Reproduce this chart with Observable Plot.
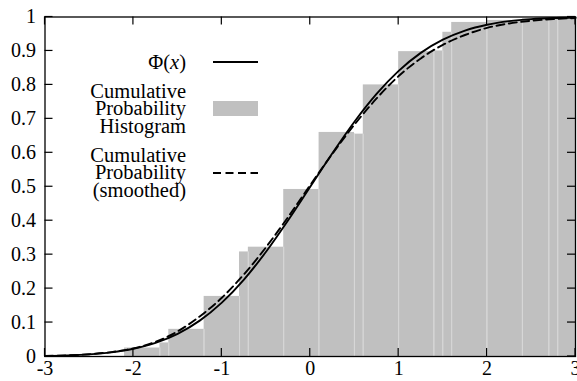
<!DOCTYPE html>
<html><head><meta charset="utf-8">
<script src="https://cdn.jsdelivr.net/npm/d3@7"></script>
<script src="https://cdn.jsdelivr.net/npm/@observablehq/plot@0.6"></script>
<style>
body{margin:0;background:#fff}
svg{display:block}
svg, svg text, svg tspan { font-family: "Liberation Serif", "DejaVu Serif", serif !important; }
</style>
</head><body><div id="chart"></div>
<script>
// Histogram boxes
const barLeft   = [-2.1, -1.7, -1.6, -1.2, -0.8, -0.7, -0.3, 0.1, 0.5, 0.6, 1.0, 1.4, 1.5, 1.6, 2.0, 2.4, 2.7, 2.8];
const barRight  = [-1.7, -1.6, -1.2, -0.8, -0.7, -0.3, 0.1, 0.5, 0.6, 1.0, 1.4, 1.5, 1.6, 2.0, 2.4, 2.7, 2.8, 3.0];
const barHeight = [0.025, 0.04, 0.08, 0.177, 0.308, 0.322, 0.492, 0.66, 0.655, 0.80, 0.898, 0.90, 0.955, 0.984, 0.99, 0.995, 0.998, 1.0];

// Curves
const curveX = [-3, -2.75, -2.5, -2.25, -2, -1.75, -1.5, -1.25, -1, -0.75, -0.5, -0.25, 0, 0.25, 0.5, 0.75, 1, 1.25, 1.5, 1.75, 2, 2.25, 2.5, 2.75, 3];
const phiValues = [0.0013, 0.0030, 0.0062, 0.0122, 0.0228, 0.0401, 0.0668, 0.1056, 0.1587, 0.2266, 0.3085, 0.4013, 0.5, 0.5987, 0.6915, 0.7734, 0.8413, 0.8944, 0.9332, 0.9599, 0.9772, 0.9878, 0.9938, 0.9970, 0.9987];
const smoothValues = [0.0015, 0.0033, 0.0068, 0.013, 0.024, 0.043, 0.074, 0.118, 0.173, 0.242, 0.322, 0.411, 0.505, 0.597, 0.683, 0.760, 0.826, 0.878, 0.918, 0.947, 0.968, 0.981, 0.989, 0.994, 0.997];

// Ticks
const xTicks = [-3, -2, -1, 0, 1, 2, 3];
const xTickLabels = ["-3", "-2", "-1", "0", "1", "2", "3"];
const yTicks = [0, 0.1, 0.2, 0.3, 0.4, 0.5, 0.6, 0.7, 0.8, 0.9, 1];
const yTickLabels = ["0", "0.1", "0.2", "0.3", "0.4", "0.5", "0.6", "0.7", "0.8", "0.9", "1"];

// Legend
const legendLabels = [["Φ(x)"], ["Cumulative", "Probability", "Histogram"], ["Cumulative", "Probability", "(smoothed)"]];

const bars = barLeft.map((l, i) => ({x1: l, x2: barRight[i], y: barHeight[i]}));
const seams = barLeft.slice(1).map((l, i) => ({x: l, y: Math.min(barHeight[i], barHeight[i + 1])}));
const curve = curveX.map((x, i) => ({x, phi: phiValues[i], smooth: smoothValues[i]}));
const xLab = new Map(xTicks.map((t, i) => [t, xTickLabels[i]]));
const yLab = new Map(yTicks.map((t, i) => [t, yTickLabels[i]]));

const FONT = "Liberation Serif, DejaVu Serif, serif";

const plot = Plot.plot({
  width: 577, height: 381,
  marginLeft: 44.5, marginRight: 2, marginTop: 16.5, marginBottom: 25,
  x: {domain: [-3, 3]},
  y: {domain: [0, 1]},
  style: {fontFamily: FONT, fontSize: "20px", color: "#000", background: "#fff"},
  marks: [
    Plot.rectY(bars, {x1: "x1", x2: "x2", y: "y", fill: "#c0c0c0"}),
    Plot.ruleX(seams, {x: "x", y1: 0, y2: "y", stroke: "#d8d8d8", strokeWidth: 1}),
    Plot.line(curve, {x: "x", y: "smooth", stroke: "#000", strokeWidth: 1.9, strokeDasharray: "8,4.5", curve: "monotone-x"}),
    Plot.line(curve, {x: "x", y: "phi", stroke: "#000", strokeWidth: 1.9, curve: "monotone-x"}),
    Plot.frame({stroke: "#000", strokeWidth: 1.3}),
    Plot.axisX(xTicks, {tickSize: 0, tickPadding: 4, tickFormat: d => xLab.get(d), fontSize: 20, label: null}),
    Plot.axisY(yTicks, {tickSize: 0, tickPadding: 9, tickFormat: d => yLab.get(d), fontSize: 20, label: null})
  ]
});

// inward mirrored tick marks using the plot's scales
const sx = plot.scale("x"), sy = plot.scale("y");
const svg = d3.select(plot);
const tk = svg.append("g").attr("stroke", "#000").attr("stroke-width", 1.2);
const L = 8;
const x0 = sx.apply(-3), x1 = sx.apply(3), y0 = sy.apply(0), y1 = sy.apply(1);
xTicks.forEach(t => {
  const px = sx.apply(t);
  tk.append("line").attr("x1", px).attr("x2", px).attr("y1", y0).attr("y2", y0 - L);
  tk.append("line").attr("x1", px).attr("x2", px).attr("y1", y1).attr("y2", y1 + L);
});
yTicks.forEach(t => {
  const py = sy.apply(t);
  tk.append("line").attr("x1", x0).attr("x2", x0 + L).attr("y1", py).attr("y2", py);
  tk.append("line").attr("x1", x1).attr("x2", x1 - L).attr("y1", py).attr("y2", py);
});

// legend (inside the plot, top-left)
const lg = svg.append("g").attr("font-size", 20.5).attr("fill", "#000");
const textRight = 186, sampleL = 213, sampleR = 258;
// entry 1
const t1 = lg.append("text").attr("x", textRight).attr("y", 62).attr("dy", "0.32em").attr("text-anchor", "end");
t1.append("tspan").text("Φ(");
t1.append("tspan").attr("font-style", "italic").text("x");
t1.append("tspan").text(")");
lg.append("line").attr("x1", sampleL).attr("x2", sampleR).attr("y1", 62).attr("y2", 62).attr("stroke", "#000").attr("stroke-width", 1.9);
// entry 2
[91, 108.5, 126].forEach((y, i) => lg.append("text").attr("x", textRight).attr("y", y).attr("dy", "0.32em").attr("text-anchor", "end").text(legendLabels[1][i]));
lg.append("rect").attr("x", sampleL).attr("y", 101).attr("width", sampleR - sampleL).attr("height", 15).attr("fill", "#c0c0c0");
// entry 3
[155, 172.5, 190].forEach((y, i) => lg.append("text").attr("x", textRight).attr("y", y).attr("dy", "0.32em").attr("text-anchor", "end").text(legendLabels[2][i]));
lg.append("line").attr("x1", sampleL).attr("x2", sampleR).attr("y1", 173).attr("y2", 173).attr("stroke", "#000").attr("stroke-width", 1.9).attr("stroke-dasharray", "8,4.5");

document.getElementById("chart").appendChild(plot);
</script>
</body></html>
